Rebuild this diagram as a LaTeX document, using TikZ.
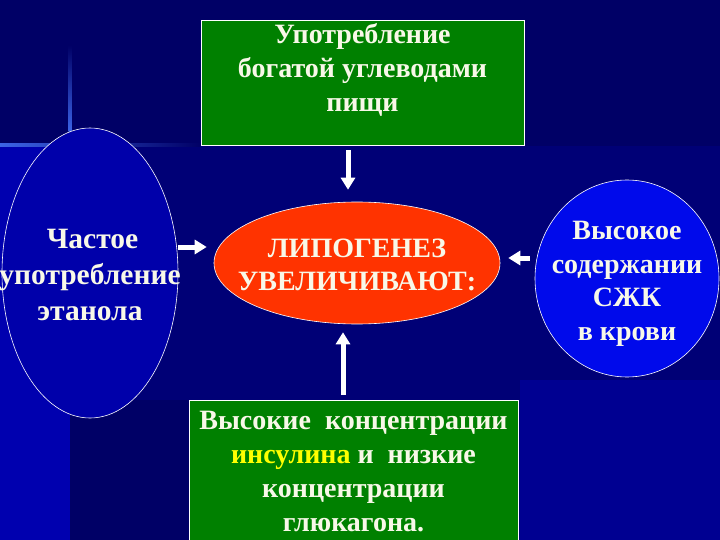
\documentclass[tikz,border=0pt]{standalone}
\usepackage{fontspec}
\setmainfont{Liberation Serif}
\usepackage{xcolor}
\usetikzlibrary{arrows.meta, positioning, shapes.geometric}
\definecolor{bgnavy}{RGB}{0, 0, 102}
\definecolor{bgmid}{RGB}{0, 0, 118}
\definecolor{bgright}{RGB}{0, 0, 145}
\definecolor{bgbright}{RGB}{0, 0, 175}
\definecolor{decoblue}{RGB}{60, 100, 230}
\definecolor{dgreen}{RGB}{0, 128, 0}
\definecolor{ovblue}{RGB}{0, 0, 170}
\definecolor{cblue}{RGB}{0, 10, 235}
\definecolor{lred}{RGB}{255, 51, 0}
\definecolor{txtwhite}{RGB}{248, 248, 232}
\definecolor{ylw}{RGB}{255, 255, 0}
% text of zero size, so the oval keeps its own size
\newcommand{\ovaltext}[1]{\raisebox{-11pt}[0pt][0pt]{\makebox[0pt]{%
  \begin{tabular}{@{}c@{}}#1\end{tabular}}}}

\begin{document}
\begin{tikzpicture}[
  x=1pt, y=-1pt,
  txt/.style={text=txtwhite, font=\bfseries\fontsize{28}{34}\selectfont,
              align=center},
  greenbox/.style={rectangle, draw=white, fill=dgreen, line width=0.8pt,
                   inner sep=0pt, txt},
  oval/.style={ellipse, draw=white, line width=0.6pt, inner sep=0pt, txt},
  arr/.style={-{Triangle[length=12pt, width=14pt]}, draw=white,
              line width=5pt}
]
  \useasboundingbox (0,0) rectangle (720,540);
  \clip (0,0) rectangle (720,540);

  % background
  \fill[bgnavy] (0,0) rectangle (720,540);
  \fill[bgmid] (0,146) rectangle (720,540);
  \fill[bgbright] (0,146) rectangle (70,540);
  \fill[bgright] (520,380) rectangle (720,540);
  \fill[bgnavy] (70,400) rectangle (190,540);
  \shade[top color=bgnavy, bottom color=decoblue] (68.5,45) rectangle (71.5,132);
  \shade[left color=decoblue, right color=bgnavy] (0,143.5) rectangle (200,146.5);

  \node[greenbox] (food) at (362.5,82.5)
    {\parbox[t][125pt][t]{323pt}{\centering\vspace*{3pt}%
     Употребление\\ богатой углеводами\\ пищи}};

  \node[oval, fill=ovblue, minimum width=176pt, minimum height=290pt,
        font=\bfseries\fontsize{29.5}{36}\selectfont] (eth) at (90,273)
    {\ovaltext{\hspace*{5pt}Частое\\ употребление\\ этанола}};

  \node[oval, fill=lred, minimum width=286pt, minimum height=122pt,
        font=\bfseries\fontsize{28}{33}\selectfont] (lipo) at (357,263)
    {\ovaltext{ЛИПОГЕНЕЗ\\ УВЕЛИЧИВАЮТ:}};

  \node[oval, fill=cblue, minimum width=184pt, minimum height=197pt,
        font=\bfseries\fontsize{28}{33.5}\selectfont] (ffa) at (627,278.5)
    {\ovaltext{Высокое\\ содержании\\ СЖК\\ в крови}};

  \node[greenbox, anchor=north] (ins) at (353.5,400)
    {\parbox[t][145pt][t]{329pt}{\centering\vspace*{11pt}%
     Высокие~ концентрации\\
     \textcolor{ylw}{инсулина} и~ низкие\\
     концентрации\\ глюкагона.}};

  \coordinate (ftop) at ([xshift=-14.5pt]food.south);
  \coordinate (eleft) at ([yshift=26pt]eth.east);
  \coordinate (fright) at ([yshift=20.5pt]ffa.west);
  \coordinate (ibot) at ([xshift=-10.5pt]ins.north);

  \draw[arr, shorten <=5pt, shorten >=12pt] (ftop) -- (ftop |- lipo.north);
  \draw[arr, shorten >=7pt] (eleft) -- (eleft -| lipo.west);
  \draw[arr, shorten <=5pt, shorten >=8pt] (fright) -- (fright -| lipo.east);
  \draw[arr, shorten <=5pt, shorten >=8pt] (ibot) -- (ibot |- lipo.south);

\end{tikzpicture}
\end{document}
